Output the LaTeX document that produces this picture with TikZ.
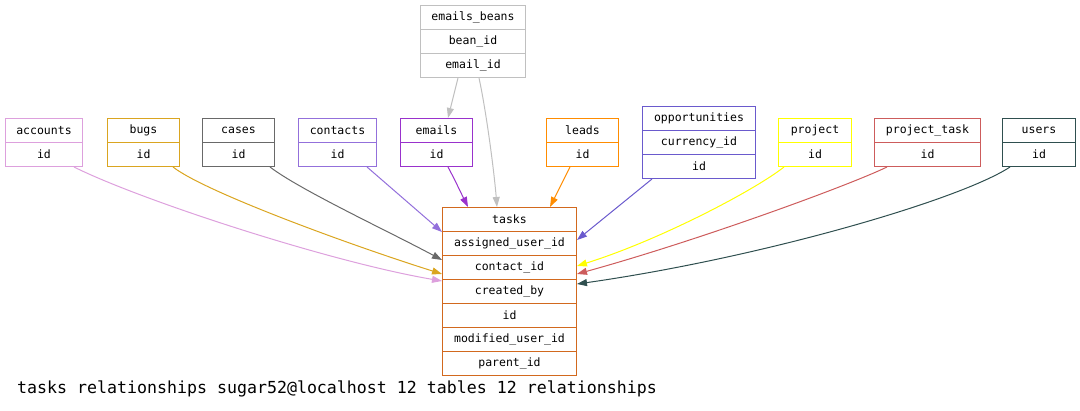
\documentclass[tikz,border=0pt]{standalone}
\usepackage{fontspec}
\setmonofont{DejaVu Sans Mono}
\usetikzlibrary{arrows.meta}
\definecolor{cplum}{HTML}{DDA0DD}
\definecolor{cgold}{HTML}{DAA520}
\definecolor{cdim}{HTML}{696969}
\definecolor{cmpurple}{HTML}{9370DB}
\definecolor{corchid}{HTML}{9932CC}
\definecolor{corange}{HTML}{FF8C00}
\definecolor{cslate}{HTML}{6A5ACD}
\definecolor{cyellow}{HTML}{FFFF00}
\definecolor{cindian}{HTML}{CD5C5C}
\definecolor{cdslate}{HTML}{2F4F4F}
\definecolor{cgray}{HTML}{C0C0C0}
\definecolor{cchoc}{HTML}{D2691E}
\tikzset{
  cell/.style={draw=#1, line width=1pt, minimum height=24pt, inner sep=0pt, anchor=north west,
    font=\fontsize{11.5}{12}\selectfont\ttfamily},
  rel/.style={draw=#1, line width=1pt, -{Triangle[length=10pt,width=7pt]}, fill=none},
}
\begin{document}
\begin{tikzpicture}[x=1pt,y=-1pt]
\useasboundingbox (0,0) rectangle (1080,411);
% emails_beans
\node[cell=cgray, minimum width=105pt] (eb) at (420,5) {emails\_beans};
\node[cell=cgray, minimum width=105pt] (eb-bean) at (420,29) {bean\_id};
\node[cell=cgray, minimum width=105pt] (eb-email) at (420,53) {email\_id};
% top row tables
\node[cell=cplum, minimum width=77pt] (accounts) at (5,118) {accounts};
\node[cell=cplum, minimum width=77pt] (accounts-id) at (5,142) {id};
\node[cell=cgold, minimum width=72pt] (bugs) at (107,118) {bugs};
\node[cell=cgold, minimum width=72pt] (bugs-id) at (107,142) {id};
\node[cell=cdim, minimum width=72pt] (cases) at (202,118) {cases};
\node[cell=cdim, minimum width=72pt] (cases-id) at (202,142) {id};
\node[cell=cmpurple, minimum width=78pt] (contacts) at (298,118) {contacts};
\node[cell=cmpurple, minimum width=78pt] (contacts-id) at (298,142) {id};
\node[cell=corchid, minimum width=72pt] (emails) at (400,118) {emails};
\node[cell=corchid, minimum width=72pt] (emails-id) at (400,142) {id};
\node[cell=corange, minimum width=72pt] (leads) at (546,118) {leads};
\node[cell=corange, minimum width=72pt] (leads-id) at (546,142) {id};
\node[cell=cslate, minimum width=113pt] (opp) at (642,106) {opportunities};
\node[cell=cslate, minimum width=113pt] (opp-cur) at (642,130) {currency\_id};
\node[cell=cslate, minimum width=113pt] (opp-id) at (642,154) {id};
\node[cell=cyellow, minimum width=73pt] (project) at (778,118) {project};
\node[cell=cyellow, minimum width=73pt] (project-id) at (778,142) {id};
\node[cell=cindian, minimum width=106pt] (ptask) at (874,118) {project\_task};
\node[cell=cindian, minimum width=106pt] (ptask-id) at (874,142) {id};
\node[cell=cdslate, minimum width=73pt] (users) at (1002,118) {users};
\node[cell=cdslate, minimum width=73pt] (users-id) at (1002,142) {id};
% tasks
\node[cell=cchoc, minimum width=134pt] (tasks) at (442,207) {tasks};
\node[cell=cchoc, minimum width=134pt] (tasks-au) at (442,231) {assigned\_user\_id};
\node[cell=cchoc, minimum width=134pt] (tasks-cid) at (442,255) {contact\_id};
\node[cell=cchoc, minimum width=134pt] (tasks-cb) at (442,279) {created\_by};
\node[cell=cchoc, minimum width=134pt] (tasks-id) at (442,303) {id};
\node[cell=cchoc, minimum width=134pt] (tasks-mu) at (442,327) {modified\_user\_id};
\node[cell=cchoc, minimum width=134pt] (tasks-pid) at (442,351) {parent\_id};
% relationships
\draw[rel=cplum] ([xshift=-9pt]accounts-id.south east) .. controls (140,200) and (330,262) .. ([yshift=-2pt]tasks-cb.north west);
\draw[rel=cgold] ([xshift=-7pt]bugs-id.south east) .. controls (205,192) and (350,245) .. ([yshift=6pt]tasks-cid.south west);
\draw[rel=cdim] ([xshift=-5pt]cases-id.south east) .. controls (300,190) and (390,232) .. ([yshift=-5pt]tasks-cid.north west);
\draw[rel=cmpurple] ([xshift=-10pt]contacts-id.south east) -- ([yshift=-1pt]tasks-au.north west);
\draw[rel=corchid] ([xshift=48pt]emails-id.south west) .. controls (454,178) and (462,195) .. ([xshift=26pt]tasks.north west);
\draw[rel=cgray] ([xshift=38pt]eb-email.south west) -- ([xshift=48pt]emails.north west);
\draw[rel=cgray] ([xshift=59pt]eb-email.south west) .. controls (486,110) and (494,170) .. ([xshift=55pt]tasks.north west);
\draw[rel=corange] ([xshift=24pt]leads-id.south west) -- ([xshift=108pt]tasks.north west);
\draw[rel=cslate] ([xshift=10pt]opp-id.south west) -- ([yshift=-9pt]tasks-au.north east);
\draw[rel=cyellow] ([xshift=6pt]project-id.south west) .. controls (755,190) and (660,240) .. ([yshift=-11pt]tasks-cid.north east);
\draw[rel=cindian] ([xshift=13pt]ptask-id.south west) .. controls (850,185) and (700,240) .. ([yshift=6pt]tasks-cid.south east);
\draw[rel=cdslate] ([xshift=8pt]users-id.south west) .. controls (960,200) and (760,258) .. ([yshift=-5pt]tasks-cb.north east);
% caption
\node[anchor=base west, inner sep=0pt, font=\fontsize{16.6}{17}\selectfont\ttfamily] (cap) at (17,394) {tasks relationships sugar52@localhost 12 tables 12 relationships};
\end{tikzpicture}
\end{document}
